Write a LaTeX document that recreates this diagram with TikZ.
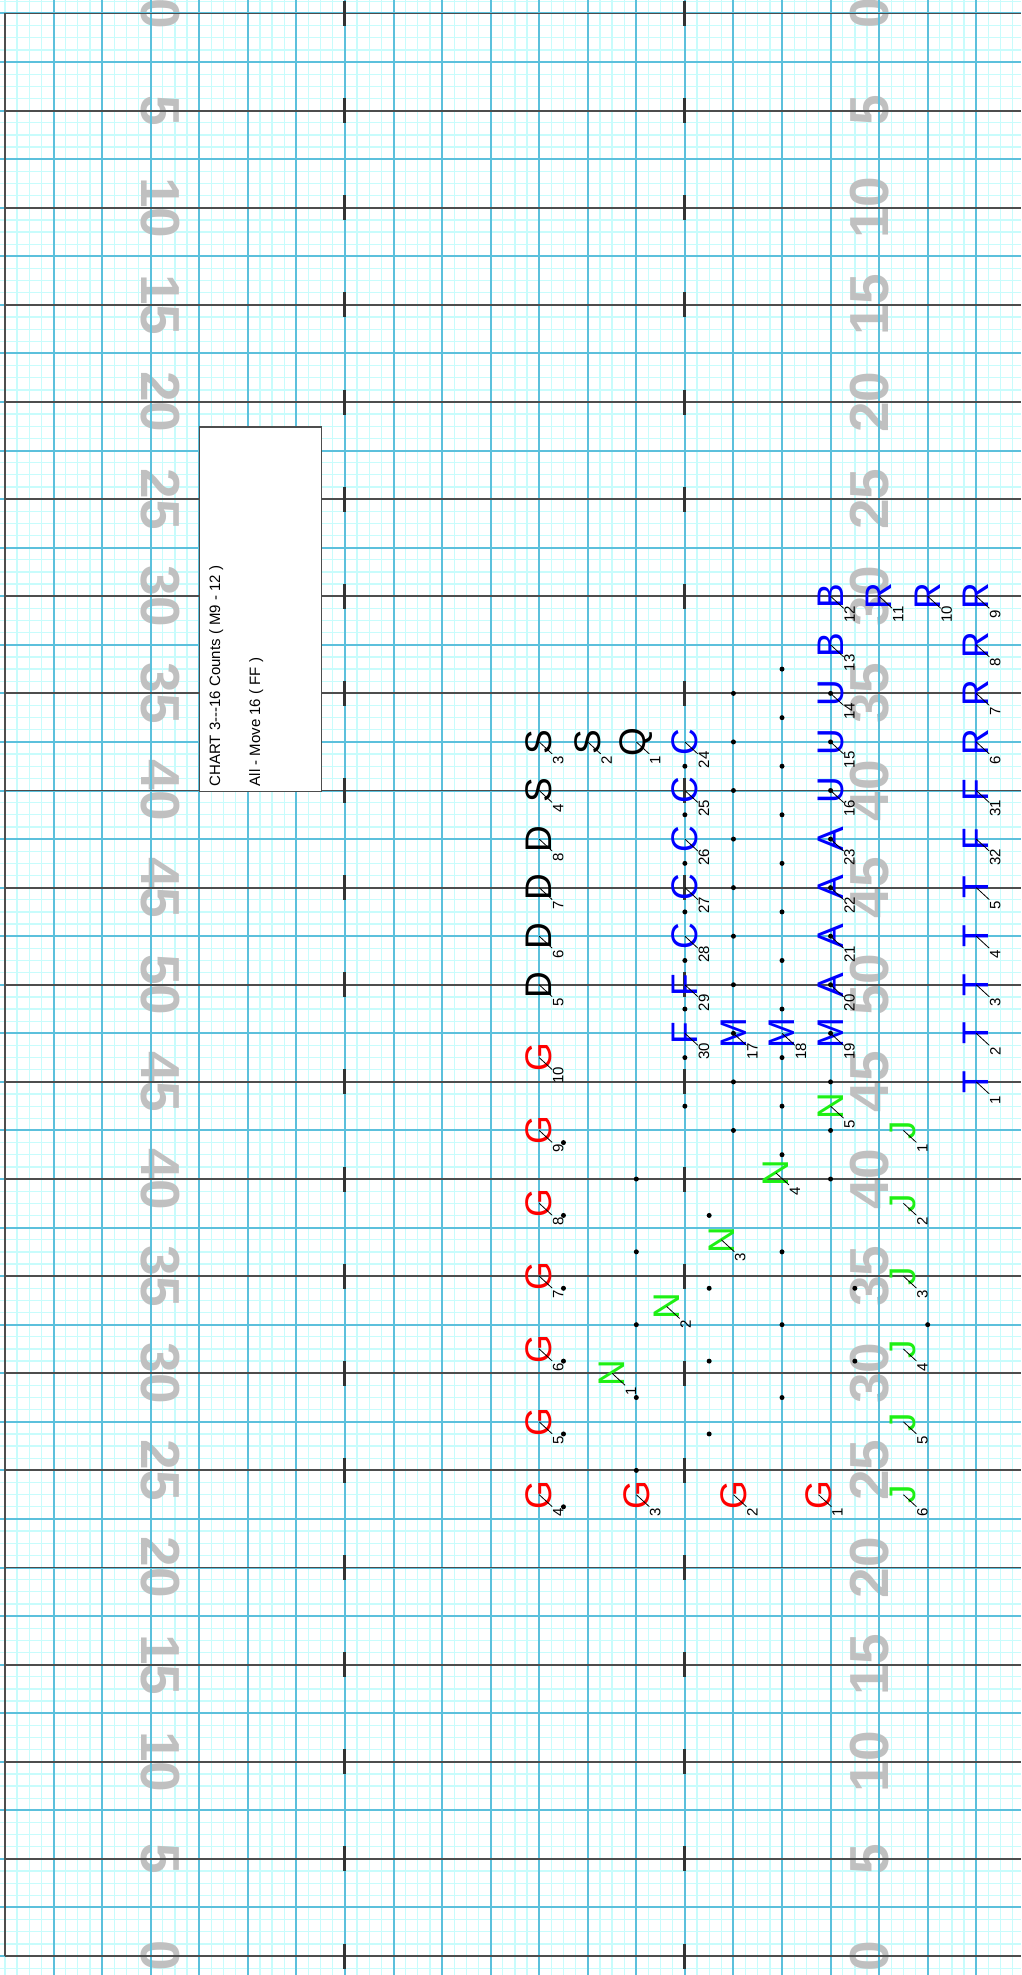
\documentclass[tikz,border=0pt]{standalone}
\usepackage{fontspec}
\setmainfont{Liberation Sans}
\definecolor{minorc}{RGB}{200,252,252}
\definecolor{majorc}{RGB}{92,192,220}
\definecolor{yardc}{RGB}{77,77,77}
\definecolor{hashc}{RGB}{51,51,51}
\definecolor{numc}{RGB}{192,192,192}
\definecolor{mblue}{RGB}{0,0,255}
\definecolor{mred}{RGB}{255,0,0}
\definecolor{mgreen}{RGB}{30,240,20}
\tikzset{
  yardnum/.style={font={\fontsize{55}{55}\selectfont\bfseries}, text=numc, inner sep=0pt, anchor=center},
  minorl/.style={draw=minorc, line width=1.3pt},
  majorl/.style={draw=majorc, line width=2pt},
  yardl/.style={draw=yardc, line width=1.8pt},
  hashl/.style={draw=hashc, line width=3pt},
  infobox/.style={draw=yardc, fill=white, line width=1.2pt, inner sep=0pt, anchor=north west},
  boxtext/.style={font=\fontsize{15}{15}\selectfont, rotate=90, inner sep=0pt, anchor=base west},
  letter/.style={font=\fontsize{37}{37}\selectfont, rotate=90, inner sep=0pt, anchor=center},
  numlbl/.style={font=\fontsize{15}{15}\selectfont, rotate=90, inner sep=0pt, anchor=center, text=black},
  tickl/.style={draw=black, line width=0.8pt},
}
\newcommand{\marcher}[5]{%
  \node[letter, text=#5] (m#3#4) at (#1,#2) {#3};
  \draw[tickl] (m#3#4.center) -- ++(13pt,-12pt);
  \node[numlbl] (n#3#4) at ([xshift=19pt,yshift=-18pt]#1,#2) {#4};
}
\begin{document}
\begin{tikzpicture}[x=1pt,y=-1pt]
\useasboundingbox (0,0) rectangle (1021,1975);
\clip (0,0) rectangle (1021,1975);
\fill[white] (0,0) rectangle (1021,1975);
% minor grid
\foreach \k in {0,...,83} \draw[minorl] ({5+12.140625*\k},0) -- ({5+12.140625*\k},1975);
\foreach \k in {-1,...,161} \draw[minorl] (0,{13.5+12.140625*\k}) -- (1021,{13.5+12.140625*\k});
% yard numbers
\foreach \b/\t in {0/0,2/5,4/10,6/15,8/20,10/25,12/30,14/35,16/40,18/45,20/50,22/45,24/40,26/35,28/30,30/25,32/20,34/15,36/10,38/5,40/0} {
  \node[yardnum, rotate=-90] (yl\b) at (160, {13.5+48.5625*\b}) {\t};
  \node[yardnum, rotate=90] (yr\b) at (870, {13.5+48.5625*\b}) {\t};
}
% major grid
\foreach \k in {1,...,20} \draw[majorl] ({5+48.5625*\k},0) -- ({5+48.5625*\k},1975);
\foreach \k in {0,...,40} \draw[majorl] (0,{13.5+48.5625*\k}) -- (1021,{13.5+48.5625*\k});
% yard lines
\foreach \k in {0,2,...,40} \draw[yardl] (5,{13.5+48.5625*\k}) -- (1021,{13.5+48.5625*\k});
\draw[yardl] (5,13.5) -- (5,1956);
% hash marks
\foreach \k in {0,2,...,40} {
  \draw[hashl] (344.94,{13.5+48.5625*\k-12.5}) -- (344.94,{13.5+48.5625*\k+12.5});
  \draw[hashl] (684.875,{13.5+48.5625*\k-12.5}) -- (684.875,{13.5+48.5625*\k+12.5});
}
% info box
\node[infobox, minimum width=121.4pt, minimum height=364.2pt] (info) at (199.25,426.3) {};
\node[boxtext] (t1) at (220,786.5) {CHART 3{-}{-}{-}16 Counts ( M9 - 12 )};
\node[boxtext] (t2) at (260,786.5) {All - Move 16 ( FF )};
% markers
\begin{scope}[x=48.5625pt, y=-48.5625pt, shift={(5pt,-13.5pt)}]
\marcher{11}{15}{S}{3}{black}
\marcher{12}{15}{S}{2}{black}
\marcher{13}{15}{Q}{1}{black}
\marcher{11}{16}{S}{4}{black}
\marcher{11}{17}{D}{8}{black}
\marcher{11}{18}{D}{7}{black}
\marcher{11}{19}{D}{6}{black}
\marcher{11}{20}{D}{5}{black}
\marcher{11}{21.5}{G}{10}{mred}
\marcher{11}{23}{G}{9}{mred}
\marcher{11}{24.5}{G}{8}{mred}
\marcher{11}{26}{G}{7}{mred}
\marcher{11}{27.5}{G}{6}{mred}
\marcher{11}{29}{G}{5}{mred}
\marcher{11}{30.5}{G}{4}{mred}
\marcher{13}{30.5}{G}{3}{mred}
\marcher{15}{30.5}{G}{2}{mred}
\marcher{16.75}{30.5}{G}{1}{mred}
\marcher{14}{15}{C}{24}{mblue}
\marcher{14}{16}{C}{25}{mblue}
\marcher{14}{17}{C}{26}{mblue}
\marcher{14}{18}{C}{27}{mblue}
\marcher{14}{19}{C}{28}{mblue}
\marcher{14}{20}{F}{29}{mblue}
\marcher{14}{21}{F}{30}{mblue}
\marcher{15}{21}{M}{17}{mblue}
\marcher{16}{21}{M}{18}{mblue}
\marcher{17}{21}{M}{19}{mblue}
\marcher{17}{12}{B}{12}{mblue}
\marcher{17}{13}{B}{13}{mblue}
\marcher{17}{14}{U}{14}{mblue}
\marcher{17}{15}{U}{15}{mblue}
\marcher{17}{16}{U}{16}{mblue}
\marcher{17}{17}{A}{23}{mblue}
\marcher{17}{18}{A}{22}{mblue}
\marcher{17}{19}{A}{21}{mblue}
\marcher{17}{20}{A}{20}{mblue}
\marcher{18}{12}{R}{11}{mblue}
\marcher{19}{12}{R}{10}{mblue}
\marcher{20}{12}{R}{9}{mblue}
\marcher{20}{13}{R}{8}{mblue}
\marcher{20}{14}{R}{7}{mblue}
\marcher{20}{15}{R}{6}{mblue}
\marcher{20}{16}{F}{31}{mblue}
\marcher{20}{17}{F}{32}{mblue}
\marcher{20}{18}{T}{5}{mblue}
\marcher{20}{19}{T}{4}{mblue}
\marcher{20}{20}{T}{3}{mblue}
\marcher{20}{21}{T}{2}{mblue}
\marcher{20}{22}{T}{1}{mblue}
\marcher{12.5}{28}{N}{1}{mgreen}
\marcher{13.625}{26.625}{N}{2}{mgreen}
\marcher{14.75}{25.25}{N}{3}{mgreen}
\marcher{15.875}{23.875}{N}{4}{mgreen}
\marcher{17}{22.5}{N}{5}{mgreen}
\marcher{18.5}{23}{J}{1}{mgreen}
\marcher{18.5}{24.5}{J}{2}{mgreen}
\marcher{18.5}{26}{J}{3}{mgreen}
\marcher{18.5}{27.5}{J}{4}{mgreen}
\marcher{18.5}{29}{J}{5}{mgreen}
\marcher{18.5}{30.5}{J}{6}{mgreen}
% dots
\foreach \a/\b in {14/15.5,14/16.5,14/17.5,14/18.5,14/19.5,14/20.5,14/21.5,14/22.5,
  15/14,15/15,15/16,15/17,15/18,15/19,15/20,15/21,15/22,15/23,
  16/13.5,16/14.5,16/15.5,16/16.5,16/17.5,16/18.5,16/19.5,16/20.5,16/21.5,16/22.5,16/23.5,16/25.5,16/27,16/28.5,
  17/14,17/15,17/16,17/17,17/18,17/19,17/20,17/21,17/22,17/23,17/24,
  13/24,13/25.5,13/27,13/28.5,13/30,
  11.5/23.25,11.5/24.75,11.5/26.25,11.5/27.75,11.5/29.25,11.5/30.75,
  14.5/24.75,14.5/26.25,14.5/27.75,14.5/29.25,
  17.5/26.25,17.5/27.75,19/27}
  \fill[black] (\a,\b) circle[radius=2.5pt];
\end{scope}
\end{tikzpicture}
\end{document}
